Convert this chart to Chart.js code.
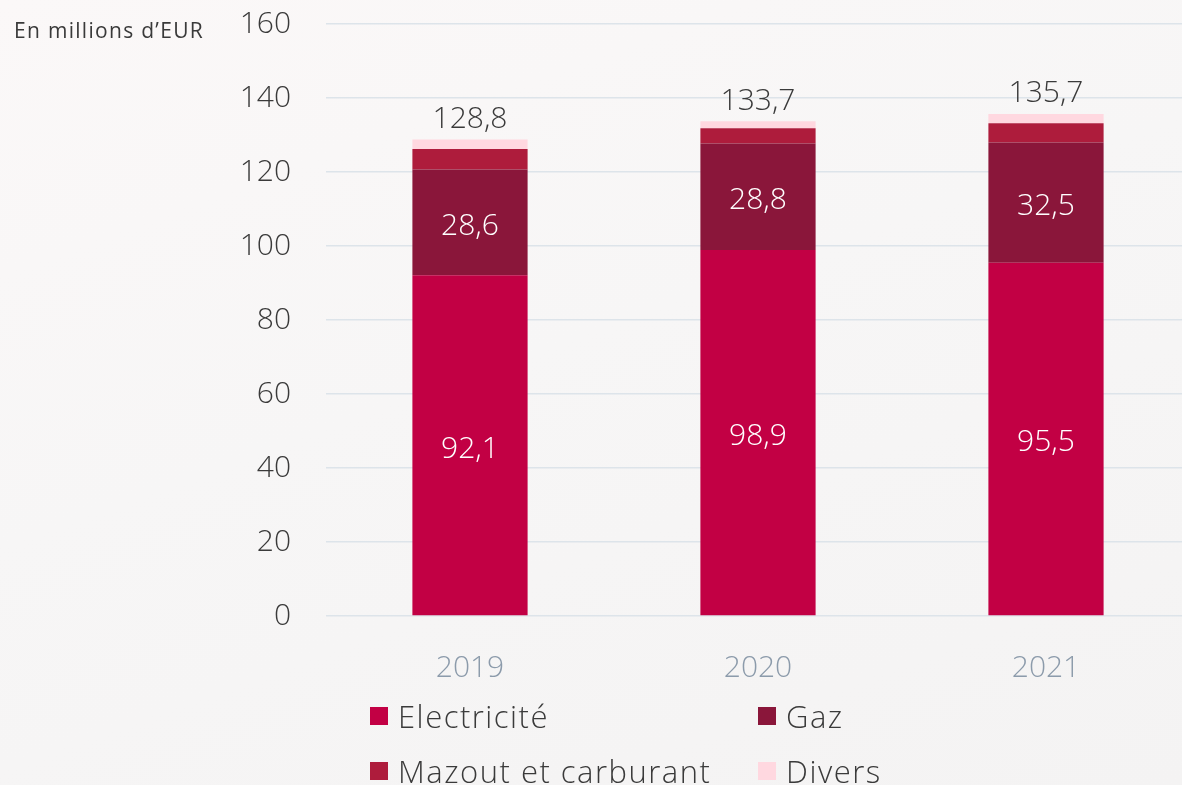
<!DOCTYPE html>
<html lang="fr">
<head>
<meta charset="utf-8">
<script src="https://cdn.jsdelivr.net/npm/chart.js@4/dist/chart.umd.min.js"></script>
<style>
  html, body {
    margin: 0;
    width: 1182px;
    height: 785px;
    overflow: hidden;
    background: linear-gradient(160deg, #fbf8f8 0%, #f7f6f6 45%, #f4f3f3 100%);
    font-family: 'Open Sans', sans-serif;
  }
  #wrap { position: relative; width: 1192px; height: 785px; }
  canvas { display: block; }
  #unit {
    position: absolute; left: 14px; top: 16px;
    font-size: 21px; color: #3a3a3a; font-weight: 400; letter-spacing: 1.3px;
  }
  #legend { position: absolute; left: 0; top: 0; }
  .lg-item {
    position: absolute; display: flex; align-items: center;
    font-size: 31px; font-weight: 300; color: #3a3a3a; white-space: nowrap;
    letter-spacing: 1.5px;
  }
  .lg-box { width: 18px; height: 18px; margin-right: 10px; }
</style>
</head>
<body>
<div id="wrap">
  <canvas id="chart" width="1192" height="785"></canvas>
  <div id="unit">En millions d’EUR</div>
  <div id="legend"></div>
</div>
<script>
// Source values (millions EUR)
const years = ['2019', '2020', '2021'];
const electricite = [92.1, 98.9, 95.5];
const gaz = [28.6, 28.8, 32.5];
const mazout = [5.5, 4.1, 5.2];
const divers = [2.6, 1.9, 2.5];
const totals = [128.8, 133.7, 135.7];
const yTicks = [0, 20, 40, 60, 80, 100, 120, 140, 160];

const seriesNames = ['Electricité', 'Gaz', 'Mazout et carburant', 'Divers'];
const seriesColors = ['#c20044', '#8a163a', '#ae1c3c', '#ffd8e0'];
const seriesValues = [electricite, gaz, mazout, divers];
const labelledSeries = [0, 1]; // segments with a value written inside

const fmt = v => v.toFixed(1).replace('.', ',');
const FONT = "'Open Sans', sans-serif";

// Draws segment values in white and totals above each stack
const valueLabels = {
  id: 'valueLabels',
  afterDatasetsDraw(chart) {
    const ctx = chart.ctx;
    ctx.save();
    ctx.font = '300 30px ' + FONT;
    ctx.textAlign = 'center';
    ctx.textBaseline = 'middle';
    labelledSeries.forEach(di => {
      const meta = chart.getDatasetMeta(di);
      meta.data.forEach((bar, i) => {
        ctx.fillStyle = '#ffffff';
        ctx.fillText(fmt(seriesValues[di][i]), bar.x, (bar.y + bar.base) / 2 + 4);
      });
    });
    const topMeta = chart.getDatasetMeta(seriesValues.length - 1);
    topMeta.data.forEach((bar, i) => {
      ctx.fillStyle = '#3a3a3a';
      ctx.fillText(fmt(totals[i]), bar.x, bar.y - 20);
    });
    ctx.restore();
  }
};

const chart = new Chart(document.getElementById('chart'), {
  type: 'bar',
  data: {
    labels: years,
    datasets: seriesNames.map((name, i) => ({
      label: name,
      data: seriesValues[i],
      backgroundColor: seriesColors[i],
      borderWidth: 0,
      categoryPercentage: 0.8,
      barPercentage: 0.5
    }))
  },
  options: {
    responsive: false,
    animation: false,
    layout: { padding: { top: 24, right: 2, bottom: 69, left: 0 } },
    plugins: {
      legend: { display: false },
      tooltip: { enabled: false }
    },
    scales: {
      x: {
        stacked: true,
        grid: { display: false },
        border: { display: false },
        ticks: { color: '#8c9bab', padding: 26, font: { family: FONT, size: 30, weight: 300 } },
        afterFit: s => { s.height = 100; }
      },
      y: {
        stacked: true,
        min: 0,
        max: 160,
        afterBuildTicks: s => { s.ticks = yTicks.map(v => ({ value: v })); },
        grid: { color: '#dde4ea', lineWidth: 1.5, drawTicks: true, tickLength: 35, tickColor: 'rgba(0,0,0,0)' },
        border: { display: false },
        ticks: { color: '#3a3a3a', padding: 0, font: { family: FONT, size: 30, weight: 300 } },
        afterFit: s => { s.width = 326; }
      }
    }
  },
  plugins: [valueLabels]
});

// HTML legend in a 2x2 grid
const legendPos = [[370, 716], [758, 716], [370, 771], [758, 771]];
const legendEl = document.getElementById('legend');
chart.data.datasets.forEach((ds, i) => {
  const item = document.createElement('div');
  item.className = 'lg-item';
  item.style.left = legendPos[i][0] + 'px';
  item.style.top = (legendPos[i][1] - 20) + 'px';
  item.style.height = '40px';
  const box = document.createElement('span');
  box.className = 'lg-box';
  box.style.background = ds.backgroundColor;
  const txt = document.createElement('span');
  txt.textContent = ds.label;
  item.appendChild(box);
  item.appendChild(txt);
  legendEl.appendChild(item);
});
</script>
</body>
</html>
